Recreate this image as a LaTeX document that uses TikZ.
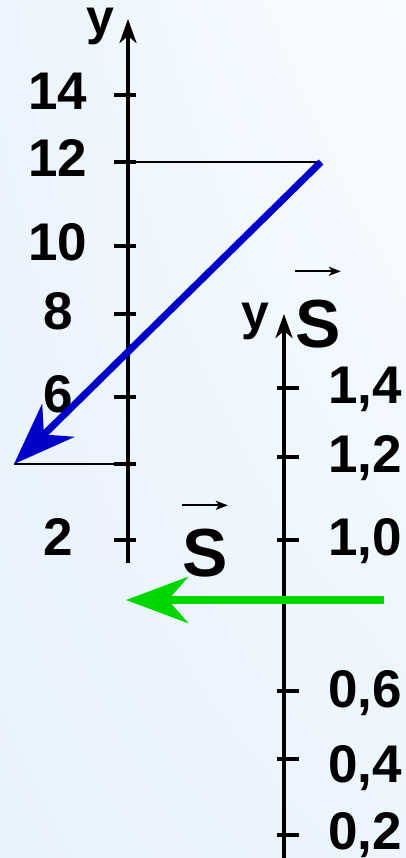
\documentclass[tikz,border=0pt]{standalone}
\usepackage{fontspec}
\setmainfont{Liberation Sans}
\usepackage{xcolor}
\usetikzlibrary{arrows.meta, positioning, calc, shadings}

\definecolor{bgUL}{RGB}{236,245,253}
\definecolor{bgUR}{RGB}{248,252,255}
\definecolor{bgLL}{RGB}{232,242,252}
\definecolor{bgLR}{RGB}{236,245,253}
\definecolor{vecBlue}{RGB}{0,0,200}
\definecolor{vecGreen}{RGB}{0,214,0}

\begin{document}
\begin{tikzpicture}[x=1pt, y=-1pt,
  axisline/.style={line width=3.5pt, -{Stealth[length=24pt, width=17pt, inset=7pt]}},
  axistick/.style={line width=3.5pt},
  guide/.style={line width=2pt},
  vecarrow/.style={line width=7pt, -{Stealth[length=62pt, width=46pt, inset=20pt]}},
  overarrow/.style={line width=2pt, -{Stealth[length=12pt, width=9pt, inset=3pt]}},
  numlbl/.style={inner sep=0pt, anchor=base, font=\bfseries\fontsize{53}{53}\selectfont},
  letterS/.style={inner sep=0pt, anchor=base, font=\bfseries\fontsize{68}{68}\selectfont},
  axisname/.style={inner sep=0pt, anchor=base, font=\bfseries\fontsize{50}{50}\selectfont}]

  \useasboundingbox (0,0) rectangle (406,858);

  % background
  \shade[upper left=bgUL, upper right=bgUR, lower left=bgLL, lower right=bgLR]
    (0,0) rectangle (406,858);

  % x positions of the two axes
  \def\xLeft{128}
  \def\xRight{284}

  % left axis, scale of 2
  \coordinate (leftBase) at (\xLeft, 563);
  \coordinate (leftTop)  at (\xLeft, 19);
  \draw[axisline] (leftBase) -- (leftTop);
  \node[axisname] (yLeft) at (100, 35) {y};

  \foreach \y/\t in {95/14, 162/12, 246/10, 314/8, 397/6, 540/2}
    \node[numlbl] (lbl\t) at (58, \y+15) {\t};
  \foreach \y in {95, 162, 246, 314, 397, 464, 540}
    \draw[axistick] (\xLeft-14, \y) -- (\xLeft+8, \y);

  % right axis, scale of 0,2
  \coordinate (rightBase) at (\xRight, 862);
  \coordinate (rightTop)  at (\xRight, 314);
  \draw[axisline] (rightBase) -- (rightTop);
  \node[axisname] (yRight) at (255, 329) {y};

  \foreach \y/\t/\d in {388/{1,4}/15, 457/{1,2}/15, 540/{1,0}/15, 691/{0,6}/16, 759/{0,4}/23, 835/{0,2}/14}
    \node[numlbl] at (365, \y+\d) {\t};
  \foreach \y in {388, 457, 540, 691, 759, 835}
    \draw[axistick] (\xRight-7, \y) -- (\xRight+15, \y);

  % blue vector from 12 down to 4
  \coordinate (blueStart) at (321, 162);
  \coordinate (blueEnd)   at (14, 464);
  \draw[guide] (\xLeft, 162) -- (blueStart);
  \draw[guide] (blueEnd) -- (\xLeft, 464);
  \draw[vecarrow, vecBlue] (blueStart) -- (blueEnd);

  % green vector
  \coordinate (greenStart) at (384, 600);
  \coordinate (greenEnd)   at (126, 600);
  \draw[vecarrow, vecGreen, line width=8pt] (greenStart) -- (greenEnd);

  % vector names
  \node[letterS] (sRight) at (318, 347) {S};
  \draw[overarrow] ([yshift=28pt]sRight.north west) -- ([yshift=28pt]sRight.north east);

  \node[letterS] (sLeft) at (205, 576) {S};
  \draw[overarrow] ([yshift=23pt]sLeft.north west) -- ([yshift=23pt]sLeft.north east);

\end{tikzpicture}
\end{document}
